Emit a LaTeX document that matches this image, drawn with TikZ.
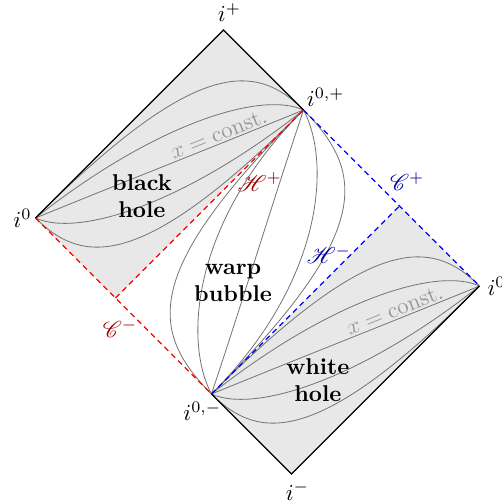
\documentclass[tikz,border=0pt]{standalone}
\usepackage{amsmath,amssymb}
\usepackage{mathrsfs}
\usepackage{xcolor}
\usepackage{tikz}
\usetikzlibrary{calc}

\begin{document}
\begin{tikzpicture}[
  x=1.75pt, y=1.75pt,
  greyregion/.style={fill=black!9, draw=none},
  xline/.style={black!55, line width=0.35pt},
  bound/.style={black, line width=0.6pt},
  hor/.style={dash pattern=on 2.4pt off 1.8pt, line width=0.55pt},
  hlab/.style={inner sep=1pt},
  reg/.style={font=\bfseries, align=center},
  constlbl/.style={black!40, rotate=21.9}
]
\useasboundingbox (-8.875,-71.5) rectangle (116.625,54.5);

% Corners of the diagram
\coordinate (i0L) at (0,0);
\coordinate (ip) at (47,47);
\coordinate (i0p) at (67,27);
\coordinate (cR) at (20,-20);
\coordinate (i0m) at (44,-44);
\coordinate (cB) at (91,3);
\coordinate (i0R) at (111,-17);
\coordinate (im) at (64,-64);

% Black hole and white hole regions
\fill[greyregion] (i0L) -- (ip) -- (i0p) -- (cR) -- cycle;
\fill[greyregion] (i0m) -- (cB) -- (i0R) -- (im) -- cycle;

% x = const. lines in both holes
\foreach \s/\e in {i0L/i0p, i0m/i0R}
  \foreach \ax/\ay/\bx/\by in {40/40/-12/12, 29/23/-11/5, 22/9/-22/-9, 11/-5/-29/-23, 12/-12/-40/-40}
    \draw[xline] (\s) .. controls +(\ax,\ay) and +(\bx,\by) .. (\e);

% x = const. lines in the warp bubble
\foreach \ax/\ay/\bx/\by in {-16/16/-40/-40, -7/13/-28/-28, 8/24/-8/-24, 28/28/7/-13, 40/40/16/-16}
  \draw[xline] (i0m) .. controls +(\ax,\ay) and +(\bx,\by) .. (i0p);

% Horizons
\draw[hor, red] (i0L) -- node[hlab, pos=0.55, below left, xshift=3.5pt, yshift=-0.8pt, text=red!60!black] (cm) {$\mathscr{C}^-$} (i0m);
\draw[hor, red] (cR) -- node[hlab, pos=0.68, below right, xshift=-3.8pt, text=red!60!black] (hp) {$\mathscr{H}^+$} (i0p);
\draw[hor, blue] (i0p) -- node[hlab, pos=0.475, above right, text=blue!65!black] (cp) {$\mathscr{C}^+$} (i0R);
\draw[hor, blue] (i0m) -- node[hlab, pos=0.7, above left, xshift=4.8pt, yshift=-1.7pt, text=blue!65!black] (hm) {$\mathscr{H}^-$} (cB);

% Null boundaries
\draw[bound] (i0L) -- (ip) -- (i0p);
\draw[bound] (i0m) -- (im) -- (i0R);

% Infinity labels
\node[above, xshift=2.6pt] (lip) at (ip) {$i^+$};
\node[below, xshift=2.6pt] (lim) at (im) {$i^-$};
\node[left, inner sep=1.5pt] (li0L) at (i0L) {$i^0$};
\node[right] (li0R) at (i0R) {$i^0$};
\node[above right, inner sep=1.3pt] (li0p) at (i0p) {$i^{0,+}$};
\node[below, xshift=-4pt] (li0m) at (i0m) {$i^{0,-}$};

% Region labels
\node[reg] (bh) at (26.6,5.5) {black\\hole};
\node[reg] (wb) at (49.4,-16.25) {warp\\bubble};
\node[reg] (wh) at (70.6,-40.5) {white\\hole};
\node[constlbl] (xbh) at (45.8,20.9) {$x = \text{const.}$};
\node[constlbl] (xwh) at (89.8,-23.1) {$x = \text{const.}$};

\end{tikzpicture}
\end{document}
